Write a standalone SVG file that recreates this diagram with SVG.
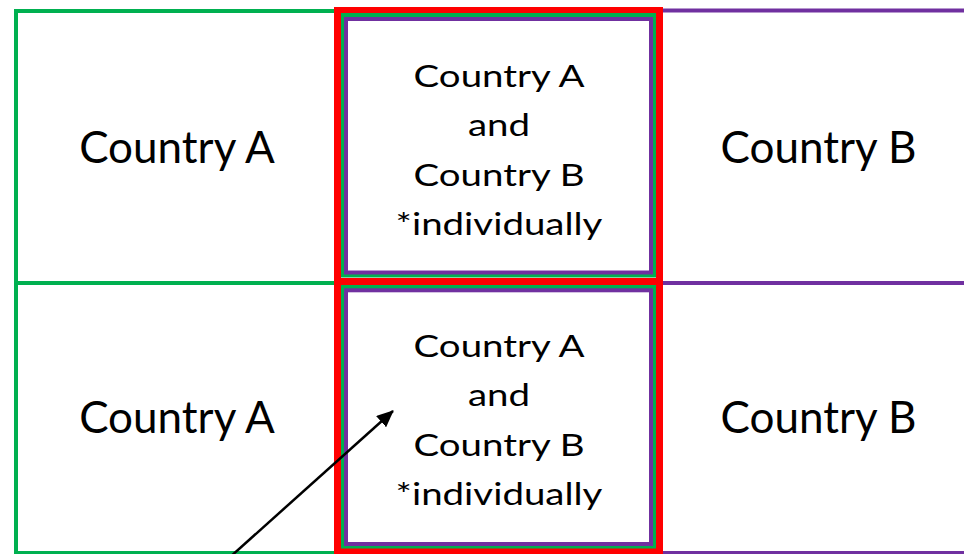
<svg xmlns="http://www.w3.org/2000/svg" width="964" height="554" viewBox="0 0 964 554">
  <style>
    .cell { fill: none; }
    .green { stroke: #00B050; stroke-width: 4; }
    .purple { stroke: #7030A0; stroke-width: 4; }
    .red { stroke: #FF0000; stroke-width: 7; fill: none; }
    .big { font-family: Lato, "Liberation Sans", sans-serif; font-size: 44px; fill: #000; text-anchor: middle; }
    .mid { font-family: Lato, "Liberation Sans", sans-serif; font-size: 31px; fill: #000; text-anchor: middle; }
    .conn { stroke: #000; stroke-width: 2.5; fill: none; }
  </style>
  <defs>
    <marker id="arrow" markerUnits="userSpaceOnUse" markerWidth="17" markerHeight="15" refX="16" refY="7.5" orient="auto">
      <path d="M0,0 L17,7.5 L0,15 Z" fill="#000"/>
    </marker>
  </defs>
  <rect width="964" height="554" fill="#fff"/>

  <!-- left column: Country A -->
  <g id="countryA-top">
    <rect class="cell green" x="16" y="11" width="322" height="272"/>
    <text class="big" x="177" y="163">Country A</text>
  </g>
  <g id="countryA-bottom">
    <rect class="cell green" x="16" y="283" width="322" height="270"/>
    <text class="big" x="177" y="433">Country A</text>
  </g>

  <!-- right column: Country B -->
  <g id="countryB-top">
    <rect class="cell purple" x="660" y="10.5" width="400" height="272.5"/>
    <text class="big" x="818.5" y="163">Country B</text>
  </g>
  <g id="countryB-bottom">
    <rect class="cell purple" x="660" y="283" width="400" height="270"/>
    <text class="big" x="818.5" y="433">Country B</text>
  </g>

  <!-- centre column: both countries individually (text set slightly wide) -->
  <g id="both-top">
    <rect class="red" x="337.5" y="10.5" width="322" height="271"/>
    <rect class="cell green" x="343" y="15" width="311" height="260.5"/>
    <rect class="cell purple" x="346" y="19" width="305" height="253.5"/>
    <g transform="translate(499 0) scale(1.24 1)">
      <text class="mid" x="0" y="87">Country A</text>
      <text class="mid" x="0" y="136">and</text>
      <text class="mid" x="0" y="186">Country B</text>
      <text class="mid" x="0" y="235">*individually</text>
    </g>
  </g>
  <g id="both-bottom">
    <rect class="red" x="337.5" y="281.5" width="322" height="270"/>
    <rect class="cell green" x="343" y="287" width="311" height="259.5"/>
    <rect class="cell purple" x="346" y="290.3" width="305" height="253.7"/>
    <g transform="translate(499 0) scale(1.24 1)">
      <text class="mid" x="0" y="357">Country A</text>
      <text class="mid" x="0" y="406">and</text>
      <text class="mid" x="0" y="456">Country B</text>
      <text class="mid" x="0" y="505">*individually</text>
    </g>
  </g>

  <g id="connectors">
    <line class="conn" x1="229" y1="558" x2="393" y2="411" marker-end="url(#arrow)"/>
  </g>
</svg>
